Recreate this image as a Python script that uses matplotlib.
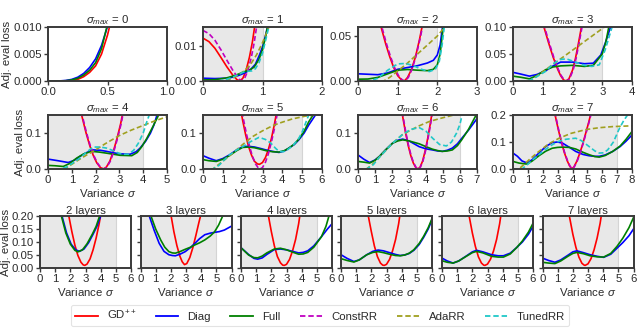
import matplotlib
matplotlib.use('Agg')
import matplotlib.pyplot as plt
from matplotlib.lines import Line2D

plt.rcParams['font.family'] = ['Liberation Sans', 'DejaVu Sans']
plt.rcParams['mathtext.fontset'] = 'custom'
plt.rcParams['mathtext.rm'] = 'Liberation Sans'
plt.rcParams['mathtext.it'] = 'Liberation Sans:italic'
fs = 8.2

# ---- sigma_max = 0 ----
s0_gd = [(0, 0), (0.15, 0.00003), (0.2, 0.0001), (0.25, 0.0003), (0.3, 0.0008), (0.35, 0.0016),
         (0.4, 0.0028), (0.45, 0.0050), (0.5, 0.0085), (0.55, 0.013)]
s0_diag = [(0, 0), (0.1, 0.00002), (0.15, 0.0001), (0.2, 0.0003), (0.25, 0.0007), (0.3, 0.0014),
           (0.35, 0.0025), (0.4, 0.0041), (0.45, 0.0066), (0.5, 0.0101), (0.55, 0.014)]
s0_full = [(0, 0), (0.1, 0.00001), (0.15, 0.00005), (0.2, 0.0002), (0.25, 0.0005), (0.3, 0.0011),
           (0.35, 0.0020), (0.4, 0.0034), (0.45, 0.0060), (0.5, 0.0105), (0.55, 0.0148)]

# ---- sigma_max = 1 ----
s1_gd = [(0, 0.0123), (0.1, 0.0113), (0.2, 0.0094), (0.3, 0.0068), (0.4, 0.0041), (0.5, 0.0017),
         (0.57, 0.0004), (0.62, 0.0), (0.67, 0.0008), (0.72, 0.0028), (0.78, 0.0068), (0.83, 0.0112),
         (0.87, 0.0158), (0.9, 0.02)]
s1_diag = [(0, 0.0008), (0.2, 0.0007), (0.4, 0.0008), (0.5, 0.0011), (0.6, 0.0016), (0.7, 0.0023),
           (0.8, 0.0033), (0.88, 0.0048), (0.95, 0.0075), (1.0, 0.0098), (1.05, 0.013), (1.09, 0.016)]
s1_full = [(0, 0.0003), (0.2, 0.0004), (0.4, 0.0009), (0.5, 0.0014), (0.6, 0.002), (0.7, 0.0027),
           (0.78, 0.0031), (0.86, 0.004), (0.94, 0.0062), (1.0, 0.009), (1.05, 0.0125), (1.09, 0.016)]
s1_const = [(0, 0.0145), (0.1, 0.0136), (0.2, 0.0117), (0.3, 0.0090), (0.4, 0.0060), (0.5, 0.0031),
            (0.58, 0.0011), (0.64, 0.0), (0.7, 0.0008), (0.75, 0.0028), (0.81, 0.0066), (0.86, 0.011),
            (0.9, 0.0155), (0.93, 0.02)]
s1_ada = [(0, 0), (0.35, 0.0), (0.5, 0.0008), (0.6, 0.0018), (0.7, 0.003), (0.8, 0.0048),
          (0.9, 0.0075), (1.0, 0.011), (1.06, 0.0135), (1.12, 0.016)]
s1_tuned = [(0, 0), (0.28, 0.0), (0.4, 0.0005), (0.5, 0.0011), (0.6, 0.0019), (0.67, 0.0025),
            (0.75, 0.0028), (0.82, 0.0029), (0.88, 0.0035), (0.94, 0.0052), (1.0, 0.008),
            (1.05, 0.0115), (1.11, 0.0158)]

# ---- sigma_max = 2 ----
s2_gd = [(0.5, 0.075), (0.6, 0.057), (0.7, 0.041), (0.8, 0.027), (0.9, 0.015), (1.0, 0.006),
         (1.1, 0.001), (1.17, 0.0), (1.25, 0.004), (1.35, 0.013), (1.45, 0.027), (1.55, 0.046),
         (1.65, 0.068)]
s2_diag = [(0, 0.008), (0.25, 0.0075), (0.5, 0.007), (0.75, 0.009), (1.0, 0.013), (1.25, 0.015),
           (1.5, 0.017), (1.75, 0.02), (1.9, 0.023), (2.0, 0.029), (2.07, 0.04), (2.13, 0.06)]
s2_full = [(0, 0.002), (0.25, 0.0022), (0.5, 0.004), (0.75, 0.008), (1.0, 0.012), (1.25, 0.0128),
           (1.5, 0.012), (1.75, 0.0115), (1.9, 0.013), (2.0, 0.018), (2.07, 0.03), (2.15, 0.06)]
s2_const = [(0.52, 0.075), (0.62, 0.057), (0.72, 0.041), (0.82, 0.027), (0.92, 0.015), (1.02, 0.006),
            (1.12, 0.001), (1.19, 0.0), (1.27, 0.004), (1.37, 0.014), (1.47, 0.029), (1.57, 0.048),
            (1.66, 0.068)]
s2_ada = [(0, 0), (0.65, 0), (0.8, 0.004), (1.0, 0.011), (1.25, 0.02), (1.5, 0.03), (1.75, 0.04),
          (2.0, 0.05), (2.15, 0.058), (2.2, 0.061)]
s2_tuned = [(0, 0), (0.3, 0.0), (0.5, 0.003), (0.75, 0.012), (1.0, 0.019), (1.2, 0.0195),
            (1.4, 0.017), (1.6, 0.013), (1.8, 0.0105), (1.95, 0.013), (2.05, 0.022), (2.12, 0.04),
            (2.18, 0.062)]

# ---- sigma_max = 3 ----
s3_gd = [(0.95, 0.12), (1.05, 0.098), (1.2, 0.07), (1.35, 0.044), (1.5, 0.022), (1.6, 0.01),
         (1.7, 0.002), (1.78, 0.0), (1.88, 0.004), (2.0, 0.02), (2.1, 0.042), (2.2, 0.07),
         (2.3, 0.1), (2.38, 0.125)]
s3_diag = [(0, 0.016), (0.25, 0.013), (0.55, 0.009), (0.8, 0.012), (1.1, 0.019), (1.35, 0.028),
           (1.6, 0.035), (2.0, 0.035), (2.4, 0.032), (2.7, 0.033), (2.95, 0.048), (3.1, 0.07),
           (3.28, 0.1)]
s3_full = [(0, 0.009), (0.25, 0.007), (0.55, 0.004), (0.8, 0.01), (1.1, 0.021), (1.35, 0.026),
           (1.6, 0.028), (2.0, 0.029), (2.4, 0.027), (2.7, 0.029), (3.0, 0.05), (3.12, 0.072),
           (3.22, 0.1)]
s3_const = [(0.97, 0.12), (1.07, 0.098), (1.22, 0.07), (1.37, 0.044), (1.52, 0.022), (1.62, 0.01),
            (1.72, 0.002), (1.8, 0.0), (1.9, 0.004), (2.02, 0.02), (2.12, 0.042), (2.22, 0.07),
            (2.32, 0.1), (2.4, 0.125)]
s3_ada = [(0, 0), (0.55, 0), (0.7, 0.005), (1.0, 0.017), (1.5, 0.037), (2.0, 0.057), (2.5, 0.077),
          (3.0, 0.097), (3.1, 0.101)]
s3_tuned = [(0, 0), (0.45, 0), (0.6, 0.002), (0.8, 0.008), (1.1, 0.018), (1.35, 0.032), (1.6, 0.04),
            (1.8, 0.041), (2.1, 0.035), (2.4, 0.029), (2.65, 0.027), (2.9, 0.03), (3.1, 0.058),
            (3.33, 0.1)]

# ---- sigma_max = 4 ----
s4_gd = [(1.3, 0.18), (1.45, 0.14), (1.6, 0.1), (1.75, 0.066), (1.9, 0.038), (2.05, 0.017),
         (2.2, 0.004), (2.33, 0.0), (2.45, 0.005), (2.6, 0.022), (2.75, 0.05), (2.9, 0.085),
         (3.05, 0.125), (3.2, 0.175)]
s4_diag = [(0, 0.0275), (0.42, 0.023), (0.85, 0.018), (1.1, 0.024), (1.34, 0.035), (1.6, 0.045),
           (1.9, 0.053), (2.2, 0.052), (2.46, 0.049), (2.75, 0.045), (3.03, 0.042), (3.45, 0.041),
           (3.7, 0.048), (3.87, 0.058), (4.1, 0.077), (4.3, 0.099), (4.45, 0.122), (4.58, 0.15)]
s4_full = [(0, 0.010), (0.3, 0.009), (0.64, 0.007), (0.9, 0.015), (1.2, 0.03), (1.5, 0.042),
           (1.83, 0.049), (2.15, 0.047), (2.46, 0.044), (2.75, 0.041), (3.03, 0.038), (3.52, 0.037),
           (3.75, 0.046), (3.94, 0.062), (4.15, 0.085), (4.37, 0.113), (4.65, 0.15)]
s4_const = [(1.32, 0.18), (1.47, 0.14), (1.62, 0.1), (1.77, 0.066), (1.92, 0.038), (2.07, 0.017),
            (2.22, 0.004), (2.35, 0.0), (2.47, 0.005), (2.62, 0.022), (2.77, 0.05), (2.92, 0.085),
            (3.07, 0.125), (3.22, 0.175)]
s4_ada = [(0, 0), (0.6, 0), (0.77, 0.003), (1.0, 0.013), (1.3, 0.026), (1.6, 0.038), (1.9, 0.049),
          (2.4, 0.07), (3.0, 0.093), (3.5, 0.108), (4.0, 0.121), (4.5, 0.134), (5.0, 0.145)]
s4_tuned = [(0, 0), (0.55, 0), (0.8, 0.006), (1.05, 0.017), (1.34, 0.03), (1.6, 0.046), (1.9, 0.061),
            (2.2, 0.061), (2.46, 0.058), (2.7, 0.052), (2.96, 0.044), (3.2, 0.041), (3.38, 0.041),
            (3.6, 0.052), (3.8, 0.072), (4.0, 0.1), (4.15, 0.131), (4.28, 0.155)]

# ---- sigma_max = 5 ----
s5_gd = [(1.85, 0.18), (2.0, 0.135), (2.15, 0.095), (2.3, 0.062), (2.45, 0.038), (2.6, 0.021),
         (2.75, 0.014), (2.85, 0.013), (3.0, 0.018), (3.15, 0.032), (3.3, 0.055), (3.45, 0.085),
         (3.6, 0.124), (3.75, 0.17)]
s5_diag = [(0, 0.037), (0.3, 0.03), (0.67, 0.023), (1.0, 0.029), (1.33, 0.039), (1.7, 0.053),
           (2.0, 0.062), (2.3, 0.063), (2.6, 0.061), (2.9, 0.057), (3.17, 0.053), (3.5, 0.049),
           (3.83, 0.046), (4.1, 0.05), (4.33, 0.058), (4.6, 0.068), (4.83, 0.081), (5.1, 0.1),
           (5.33, 0.122), (5.67, 0.15)]
s5_full = [(0, 0.026), (0.3, 0.023), (0.67, 0.021), (1.0, 0.027), (1.33, 0.037), (1.7, 0.051),
           (2.0, 0.060), (2.3, 0.061), (2.6, 0.059), (2.9, 0.055), (3.17, 0.051), (3.5, 0.048),
           (3.83, 0.047), (4.1, 0.051), (4.33, 0.058), (4.6, 0.069), (4.83, 0.083), (5.1, 0.105),
           (5.33, 0.131), (5.55, 0.15)]
s5_const = [(1.9, 0.18), (2.05, 0.135), (2.2, 0.095), (2.35, 0.062), (2.5, 0.034), (2.65, 0.014),
            (2.8, 0.002), (2.88, 0.0), (3.0, 0.004), (3.15, 0.019), (3.3, 0.043), (3.45, 0.075),
            (3.6, 0.112), (3.75, 0.155), (3.85, 0.18)]
s5_ada = [(0, 0), (0.5, 0), (0.8, 0.013), (1.1, 0.026), (1.5, 0.044), (2.0, 0.068), (2.5, 0.09),
          (3.0, 0.106), (3.5, 0.12), (3.83, 0.127), (4.5, 0.139), (5.17, 0.147), (5.67, 0.15)]
s5_tuned = [(0, 0), (0.5, 0), (0.8, 0.01), (1.05, 0.024), (1.33, 0.039), (1.7, 0.053), (2.0, 0.062),
            (2.4, 0.076), (2.83, 0.088), (3.15, 0.082), (3.42, 0.072), (3.65, 0.058), (3.83, 0.049),
            (4.05, 0.048), (4.25, 0.053), (4.55, 0.066), (4.83, 0.085), (5.0, 0.103), (5.17, 0.127),
            (5.33, 0.15)]

# ---- sigma_max = 6 ----
s6_gd = [(2.5, 0.18), (2.65, 0.14), (2.8, 0.1), (2.95, 0.066), (3.1, 0.038), (3.25, 0.017),
         (3.4, 0.004), (3.53, 0.0), (3.65, 0.005), (3.8, 0.022), (3.95, 0.05), (4.1, 0.085),
         (4.25, 0.125), (4.4, 0.17)]
s6_diag = [(0, 0.039), (0.35, 0.027), (0.68, 0.018), (1.0, 0.025), (1.26, 0.035), (1.6, 0.052),
           (2.04, 0.072), (2.35, 0.08), (2.63, 0.083), (3.0, 0.078), (3.3, 0.07), (3.6, 0.062),
           (4.0, 0.056), (4.38, 0.053), (4.7, 0.05), (4.96, 0.049), (5.25, 0.052), (5.55, 0.058),
           (5.85, 0.07), (6.1, 0.085), (6.5, 0.108), (7.0, 0.14)]
s6_full = [(0, 0.021), (0.35, 0.019), (0.68, 0.0165), (1.0, 0.024), (1.26, 0.035), (1.6, 0.052),
           (2.04, 0.072), (2.35, 0.078), (2.63, 0.081), (3.0, 0.078), (3.3, 0.074), (3.6, 0.07),
           (4.0, 0.062), (4.38, 0.055), (4.7, 0.051), (4.96, 0.049), (5.25, 0.05), (5.55, 0.053),
           (5.85, 0.065), (6.1, 0.081), (6.5, 0.11), (6.95, 0.15)]
s6_const = [(2.52, 0.18), (2.67, 0.14), (2.82, 0.1), (2.97, 0.066), (3.12, 0.038), (3.27, 0.017),
            (3.42, 0.004), (3.55, 0.0), (3.67, 0.005), (3.82, 0.022), (3.97, 0.05), (4.12, 0.085),
            (4.27, 0.125), (4.42, 0.17)]
s6_ada = [(0, 0), (0.5, 0), (0.9, 0.015), (1.4, 0.04), (2.04, 0.072), (2.6, 0.095), (3.1, 0.108),
          (3.6, 0.12), (4.2, 0.132), (4.96, 0.142), (5.55, 0.149), (6.0, 0.153), (7.0, 0.158)]
s6_tuned = [(0, 0), (0.5, 0), (0.9, 0.012), (1.3, 0.035), (1.7, 0.055), (2.04, 0.072), (2.6, 0.095),
            (3.1, 0.11), (3.6, 0.115), (4.0, 0.105), (4.4, 0.085), (4.8, 0.068), (5.2, 0.064),
            (5.5, 0.075), (5.8, 0.1), (6.0, 0.125), (6.15, 0.155)]

# ---- sigma_max = 7 ----
s7_gd = [(2.7, 0.24), (2.85, 0.195), (3.05, 0.145), (3.25, 0.1), (3.45, 0.061), (3.65, 0.03),
         (3.8, 0.012), (3.95, 0.0), (4.1, 0.008), (4.3, 0.03), (4.5, 0.06), (4.7, 0.095),
         (4.9, 0.135), (5.1, 0.175), (5.3, 0.22)]
s7_diag = [(0, 0.059), (0.3, 0.047), (0.6, 0.03), (0.95, 0.022), (1.3, 0.035), (1.74, 0.059),
           (2.2, 0.083), (2.64, 0.098), (3.0, 0.1), (3.32, 0.096), (3.8, 0.08), (4.22, 0.065),
           (4.7, 0.054), (5.12, 0.049), (5.5, 0.047), (5.8, 0.047), (6.2, 0.052), (6.7, 0.065),
           (7.2, 0.083), (7.6, 0.103), (8.0, 0.126)]
s7_full = [(0, 0.028), (0.4, 0.022), (0.95, 0.018), (1.3, 0.03), (1.74, 0.049), (2.2, 0.066),
           (2.64, 0.077), (3.0, 0.08), (3.32, 0.081), (3.8, 0.08), (4.22, 0.074), (4.7, 0.062),
           (5.12, 0.053), (5.5, 0.046), (5.8, 0.044), (6.2, 0.05), (6.7, 0.065), (7.2, 0.085),
           (7.6, 0.11), (8.0, 0.139)]
s7_const = [(2.72, 0.24), (2.87, 0.195), (3.07, 0.145), (3.27, 0.1), (3.47, 0.061), (3.67, 0.03),
            (3.82, 0.012), (3.97, 0.0), (4.12, 0.008), (4.32, 0.03), (4.52, 0.06), (4.72, 0.095),
            (4.92, 0.135), (5.12, 0.175), (5.32, 0.22)]
s7_ada = [(0, 0), (0.4, 0), (0.8, 0.02), (1.2, 0.04), (1.74, 0.065), (2.4, 0.093), (3.1, 0.114),
          (3.9, 0.132), (4.9, 0.146), (5.8, 0.153), (6.7, 0.157), (8.0, 0.16)]
s7_tuned = [(0, 0), (0.6, 0), (1.0, 0.018), (1.3, 0.033), (1.74, 0.053), (2.2, 0.073), (2.64, 0.09),
            (3.1, 0.103), (3.55, 0.11), (4.0, 0.113), (4.22, 0.114), (4.6, 0.105), (5.12, 0.083),
            (5.5, 0.067), (5.8, 0.059), (6.1, 0.06), (6.37, 0.071), (6.75, 0.1), (7.16, 0.151),
            (7.45, 0.18), (7.7, 0.2)]

# ---- layers (bottom row) ----
l2_gd = [(1.75, 0.24), (1.9, 0.2), (2.1, 0.14), (2.3, 0.088), (2.5, 0.048), (2.7, 0.022), (2.85, 0.012),
         (2.95, 0.01), (3.1, 0.015), (3.3, 0.035), (3.5, 0.07), (3.7, 0.115), (3.9, 0.17), (4.05, 0.22)]
l2_diag = [(1.35, 0.23), (1.45, 0.2), (1.75, 0.135), (2.05, 0.092), (2.35, 0.07), (2.6, 0.064),
           (2.9, 0.073), (3.2, 0.097), (3.5, 0.13), (3.75, 0.16), (4.0, 0.2), (4.1, 0.22)]
l2_full = [(1.3, 0.23), (1.41, 0.2), (1.7, 0.135), (2.0, 0.092), (2.3, 0.068), (2.5, 0.062),
           (2.8, 0.07), (3.1, 0.093), (3.45, 0.13), (3.7, 0.16), (3.93, 0.2), (4.03, 0.22)]

l3_gd = [(1.9, 0.24), (2.02, 0.2), (2.2, 0.14), (2.4, 0.086), (2.6, 0.045), (2.75, 0.024), (2.9, 0.013),
         (3.05, 0.017), (3.25, 0.04), (3.45, 0.078), (3.65, 0.125), (3.85, 0.175), (4.0, 0.21)]
l3_diag = [(0.45, 0.23), (0.58, 0.2), (0.9, 0.145), (1.23, 0.095), (1.55, 0.064), (1.87, 0.051),
           (2.1, 0.048), (2.3, 0.047), (2.6, 0.053), (2.95, 0.063), (3.3, 0.079), (3.59, 0.095),
           (3.9, 0.113), (4.24, 0.128), (4.6, 0.134), (4.88, 0.137), (5.2, 0.14), (5.53, 0.146), (6.0, 0.161)]
l3_full = [(0.55, 0.23), (0.69, 0.2), (1.0, 0.15), (1.33, 0.108), (1.6, 0.08), (1.87, 0.063), (2.1, 0.058),
           (2.3, 0.057), (2.6, 0.063), (2.95, 0.072), (3.3, 0.08), (3.59, 0.089), (3.9, 0.097),
           (4.24, 0.108), (4.6, 0.123), (4.88, 0.139), (5.15, 0.165), (5.42, 0.2), (5.5, 0.21)]

l4_gd = [(1.7, 0.24), (1.81, 0.2), (2.0, 0.14), (2.2, 0.085), (2.4, 0.044), (2.6, 0.02), (2.75, 0.011),
         (2.85, 0.01), (3.0, 0.014), (3.2, 0.033), (3.4, 0.066), (3.6, 0.11), (3.8, 0.17), (3.9, 0.21)]
l4_diag = [(0, 0.078), (0.5, 0.052), (0.85, 0.037), (1.1, 0.034), (1.4, 0.039), (1.7, 0.052), (2.2, 0.071),
           (2.6, 0.073), (3.0, 0.07), (3.4, 0.064), (3.8, 0.058), (4.1, 0.06), (4.4, 0.066), (4.8, 0.085),
           (5.3, 0.12), (5.7, 0.15), (6.0, 0.17)]
l4_full = [(0, 0.078), (0.5, 0.05), (0.85, 0.04), (1.1, 0.039), (1.4, 0.046), (1.7, 0.058), (2.2, 0.073),
           (2.6, 0.076), (3.0, 0.07), (3.4, 0.061), (3.8, 0.053), (4.1, 0.054), (4.4, 0.06), (4.8, 0.08),
           (5.3, 0.12), (5.6, 0.16), (5.8, 0.2), (5.9, 0.22)]

l5_gd = [(1.7, 0.24), (1.8, 0.2), (2.0, 0.14), (2.2, 0.085), (2.4, 0.044), (2.6, 0.019), (2.75, 0.011),
         (2.85, 0.01), (3.0, 0.014), (3.2, 0.033), (3.4, 0.066), (3.6, 0.11), (3.8, 0.17), (3.9, 0.21)]
l5_diag = [(0, 0.051), (0.4, 0.037), (0.85, 0.025), (1.2, 0.031), (1.7, 0.051), (2.1, 0.064), (2.45, 0.069),
           (2.8, 0.066), (3.2, 0.059), (3.6, 0.052), (3.9, 0.048), (4.2, 0.05), (4.5, 0.056), (4.8, 0.068),
           (5.15, 0.09), (5.45, 0.118), (5.75, 0.15), (6.0, 0.185)]
l5_full = [(0, 0.036), (0.4, 0.029), (0.85, 0.023), (1.2, 0.031), (1.7, 0.051), (2.1, 0.06), (2.45, 0.063),
           (2.8, 0.059), (3.2, 0.053), (3.6, 0.048), (3.9, 0.047), (4.2, 0.05), (4.5, 0.057), (4.8, 0.07),
           (5.15, 0.094), (5.45, 0.122), (5.75, 0.155), (6.0, 0.19)]

l6_gd = [(1.68, 0.24), (1.79, 0.2), (2.0, 0.135), (2.2, 0.083), (2.4, 0.043), (2.6, 0.019), (2.75, 0.011),
         (2.83, 0.01), (3.0, 0.015), (3.2, 0.034), (3.4, 0.066), (3.6, 0.11), (3.8, 0.17), (3.9, 0.21)]
l6_diag = [(0, 0.038), (0.35, 0.027), (0.73, 0.019), (1.1, 0.027), (1.6, 0.046), (2.0, 0.062), (2.28, 0.068),
           (2.7, 0.062), (3.27, 0.051), (3.7, 0.047), (4.05, 0.047), (4.5, 0.057), (4.93, 0.079), (5.3, 0.1),
           (5.7, 0.13), (6.0, 0.16)]
l6_full = [(0, 0.028), (0.35, 0.022), (0.73, 0.019), (1.1, 0.027), (1.6, 0.045), (2.0, 0.059), (2.28, 0.064),
           (2.7, 0.058), (3.27, 0.045), (3.7, 0.042), (4.05, 0.042), (4.5, 0.054), (4.93, 0.079), (5.3, 0.104),
           (5.7, 0.138), (6.0, 0.172)]

l7_gd = [(1.66, 0.24), (1.77, 0.2), (2.0, 0.13), (2.2, 0.08), (2.4, 0.042), (2.6, 0.018), (2.75, 0.011),
         (2.81, 0.01), (3.0, 0.016), (3.2, 0.036), (3.4, 0.07), (3.6, 0.115), (3.8, 0.172), (3.9, 0.21)]
l7_diag = [(0, 0.038), (0.4, 0.029), (0.82, 0.022), (1.2, 0.031), (1.7, 0.05), (2.0, 0.062), (2.26, 0.066),
           (2.7, 0.059), (3.14, 0.051), (3.6, 0.045), (4.03, 0.041), (4.5, 0.053), (4.91, 0.076), (5.3, 0.098),
           (5.7, 0.124), (6.0, 0.15)]
l7_full = [(0, 0.022), (0.4, 0.019), (0.82, 0.017), (1.2, 0.027), (1.7, 0.046), (2.0, 0.056), (2.26, 0.06),
           (2.7, 0.055), (3.14, 0.047), (3.6, 0.043), (4.03, 0.042), (4.5, 0.056), (4.91, 0.083), (5.3, 0.115),
           (5.7, 0.155), (6.0, 0.194)]

methods = ['GD$^{++}$', 'Diag', 'Full', 'ConstRR', 'AdaRR', 'TunedRR']
colors = ['#ff0000', '#0000ff', '#008000', '#c000c0', '#a0a020', '#20c8c8']
styles = ['-', '-', '-', '--', '--', '--']

top_panels = [
    (0, 1, 0.010, [0.0, 0.005, 0.010], '{:.3f}', [s0_gd, s0_diag, s0_full]),
    (1, 2, 0.0155, [0.0, 0.01], '{:.2f}', [s1_gd, s1_diag, s1_full, s1_const, s1_ada, s1_tuned]),
    (2, 3, 0.06, [0.0, 0.05], '{:.2f}', [s2_gd, s2_diag, s2_full, s2_const, s2_ada, s2_tuned]),
    (3, 4, 0.10, [0.0, 0.05, 0.10], '{:.2f}', [s3_gd, s3_diag, s3_full, s3_const, s3_ada, s3_tuned]),
    (4, 5, 0.15, [0.0, 0.1], '{:.1f}', [s4_gd, s4_diag, s4_full, s4_const, s4_ada, s4_tuned]),
    (5, 6, 0.15, [0.0, 0.1], '{:.1f}', [s5_gd, s5_diag, s5_full, s5_const, s5_ada, s5_tuned]),
    (6, 7, 0.15, [0.0, 0.1], '{:.1f}', [s6_gd, s6_diag, s6_full, s6_const, s6_ada, s6_tuned]),
    (7, 8, 0.20, [0.0, 0.1, 0.2], '{:.1f}', [s7_gd, s7_diag, s7_full, s7_const, s7_ada, s7_tuned]),
]
layer_panels = [
    (2, [l2_gd, l2_diag, l2_full]),
    (3, [l3_gd, l3_diag, l3_full]),
    (4, [l4_gd, l4_diag, l4_full]),
    (5, [l5_gd, l5_diag, l5_full]),
    (6, [l6_gd, l6_diag, l6_full]),
    (7, [l7_gd, l7_diag, l7_full]),
]

spine_col = '#3a3a3a'
text_col = '#2a2a2a'


def style_axes(ax):
    for s in ax.spines.values():
        s.set_color(spine_col)
        s.set_linewidth(1.4)
    ax.tick_params(direction='out', length=3, width=1, color=spine_col,
                   labelcolor=text_col, labelsize=fs, pad=1.5)


def draw_curves(ax, curves):
    for i, pts in enumerate(curves):
        xs = [p[0] for p in pts]
        ys = [p[1] for p in pts]
        ax.plot(xs, ys, color=colors[i], ls=styles[i], lw=1.2,
                dashes=(3, 1.6) if styles[i] == '--' else (None, None))


fig = plt.figure(figsize=(6.4, 3.34), dpi=100)

# top two rows
lefts4 = [48, 203, 358, 513]
for k, (smax, xmax, ymax, yt, fmt, curves) in enumerate(top_panels):
    r, c = divmod(k, 4)
    top = 27 if r == 0 else 115
    ax = fig.add_axes([lefts4[c] / 640, 1 - (top + 54) / 334, 119 / 640, 54 / 334])
    if smax > 0:
        ax.axvspan(0, smax, facecolor='#e8e8e8', edgecolor='none', zorder=0)
        ax.axvline(smax, color='#d4d4d4', lw=0.8, zorder=0)
    draw_curves(ax, curves)
    ax.set_xlim(0, xmax)
    ax.set_ylim(0, ymax)
    ax.set_yticks(yt)
    ax.set_yticklabels([fmt.format(v) for v in yt])
    if smax == 0:
        ax.set_xticks([0, 0.5, 1.0])
        ax.set_xticklabels(['0.0', '0.5', '1.0'])
    else:
        ax.set_xticks(range(0, xmax + 1))
    ax.set_title(r'$\sigma_{max}$ = %d' % smax, fontsize=fs, pad=1.5, color=text_col)
    style_axes(ax)
    if c == 0:
        ax.set_ylabel('Adj. eval loss', fontsize=fs, color=text_col, labelpad=0.5)
    if r == 1:
        ax.set_xlabel(r'Variance $\sigma$', fontsize=fs, color=text_col, labelpad=1)

# bottom row
lefts6 = [40, 140.5, 241, 341, 442, 542.5]
for k, (nl, curves) in enumerate(layer_panels):
    ax = fig.add_axes([lefts6[k] / 640, 1 - 268 / 334, 91 / 640, 52 / 334])
    ax.axvspan(0, 5, facecolor='#e8e8e8', edgecolor='none', zorder=0)
    ax.axvline(5, color='#d4d4d4', lw=0.8, zorder=0)
    draw_curves(ax, curves)
    ax.set_xlim(0, 6)
    ax.set_ylim(0, 0.2)
    ax.set_xticks(range(0, 7))
    ax.set_yticks([0.0, 0.05, 0.10, 0.15, 0.20])
    if k == 0:
        ax.set_yticklabels(['0.00', '0.05', '0.10', '0.15', '0.20'])
        ax.set_ylabel('Adj. eval loss', fontsize=fs, color=text_col, labelpad=0.5)
    else:
        ax.set_yticklabels([])
    ax.set_title('%d layers' % nl, fontsize=fs, pad=1.5, color=text_col)
    ax.set_xlabel(r'Variance $\sigma$', fontsize=fs, color=text_col, labelpad=1)
    style_axes(ax)

handles = [Line2D([], [], color=colors[i], ls=styles[i], lw=1.3,
                  dashes=(3, 1.6) if styles[i] == '--' else (None, None)) for i in range(6)]
leg = fig.legend(handles, methods, loc='center', bbox_to_anchor=(0.5, 0.055), ncol=6,
                 fontsize=fs, frameon=True, handlelength=2.0, columnspacing=1.7,
                 handletextpad=0.8, borderpad=0.35)
leg.get_frame().set_edgecolor('#dddddd')
leg.get_frame().set_linewidth(0.8)
for t in leg.get_texts():
    t.set_color(text_col)

fig.savefig('out.png', dpi=100)
